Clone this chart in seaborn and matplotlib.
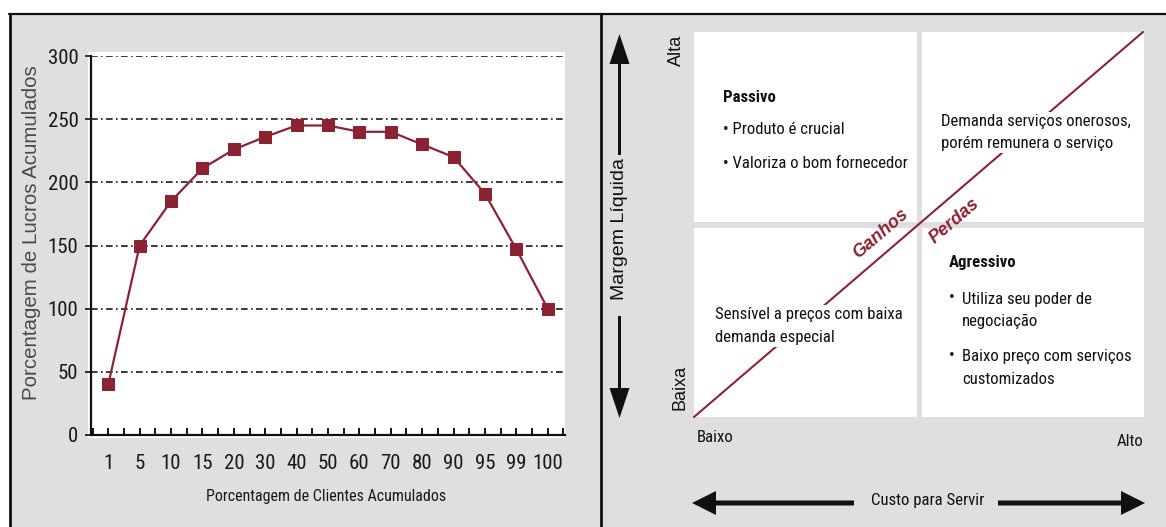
import matplotlib
matplotlib.use('Agg')
import matplotlib.pyplot as plt
import seaborn as sns
import pandas as pd
import numpy as np
from matplotlib.patches import Rectangle, FancyArrow
from matplotlib import font_manager

# ---------------- data ----------------
clientes = ['1', '5', '10', '15', '20', '30', '40', '50', '60', '70', '80', '90', '95', '99', '100']
lucros = [40, 150, 185, 211, 226, 236, 245, 245, 240, 240, 230, 220, 191, 147, 100]
y_ticks = [0, 50, 100, 150, 200, 250, 300]

x_label = 'Porcentagem de Clientes Acumulados'
y_label = 'Porcentagem de Lucros Acumulados'

# ---------------- fonts ----------------
fl = font_manager.fontManager.ttflist
names = {f.name for f in fl}
NF = None
for cand in ['Liberation Sans Narrow', 'Roboto Condensed', 'Open Sans Condensed', 'Noto Sans Condensed']:
    if cand in names:
        NF = dict(fontfamily=cand)
        break
if NF is None:
    cond = [f for f in fl if 'condensed' in str(f.stretch).lower() or 'Condensed' in f.fname]
    if cond:
        NF = dict(fontfamily=cond[0].name, fontstretch='condensed')
if NF is None:
    NF = dict(fontfamily='Liberation Sans')
NARROW_OK = NF['fontfamily'] != 'Liberation Sans'
K = 1.0 if NARROW_OK else 0.85   # shrink factor when no narrow face exists
SANS = 'Liberation Sans'

RED = '#8B2332'
GRAY_BG = '#DFDFE1'
W, H = 1166, 527

sns.set_style('white')
plt.rcParams['font.family'] = [SANS, 'DejaVu Sans']

fig = plt.figure(figsize=(W / 100, H / 100), dpi=100, facecolor='white')

# overlay axes in pixel coordinates (backgrounds + diagram)
ov = fig.add_axes([0, 0, 1, 1], zorder=0)
ov.set_xlim(0, W)
ov.set_ylim(H, 0)
ov.axis('off')
ov.patch.set_alpha(0)

ov.add_patch(Rectangle((10, 14), W - 10, H - 14, facecolor=GRAY_BG, edgecolor='none', zorder=0))
ov.plot([9, W], [14, 14], color='#111111', lw=1.6, zorder=1)
ov.plot([10, 10], [14, H], color='#111111', lw=2.0, zorder=1)
ov.plot([600.5, 600.5], [14, H], color='#111111', lw=2.0, zorder=1)
ov.add_patch(Rectangle((88, 52), 477, 386, facecolor='white', edgecolor='none', zorder=0.5))

# ---------------- left chart ----------------
ax = fig.add_axes([91 / W, 1 - 435 / H, (565 - 91) / W, (435 - 56) / H], zorder=1)
ax.patch.set_alpha(0)
df = pd.DataFrame({'clientes': clientes, 'lucros': lucros})
sns.lineplot(data=df, x='clientes', y='lucros', sort=False, ax=ax, color=RED, lw=1.6,
             marker='s', markersize=8, markeredgecolor=RED, markerfacecolor=RED, zorder=3)

ax.set_ylim(0, 300)
ax.set_yticks(y_ticks)
ax.set_xlim(-0.55, 14.55)
ax.set_xticks(range(len(clientes)))
ax.set_xticklabels(clientes)
ax.set_xticks(np.arange(-0.5, len(clientes), 1.0), minor=True)

ax.yaxis.grid(True, color='#1a1a1a', lw=1.2, linestyle=(0, (4, 2, 1, 2)))
ax.xaxis.grid(False)
for s in ['top', 'right']:
    ax.spines[s].set_visible(False)
for s in ['left', 'bottom']:
    ax.spines[s].set_color('#111111')
    ax.spines[s].set_linewidth(1.6)

ax.tick_params(axis='x', which='both', direction='in', length=5, width=1.4, color='#111111',
               bottom=True, pad=14)
ax.tick_params(axis='y', direction='out', length=4, width=1.2, color='#111111', left=True, pad=5)
for lab in ax.get_xticklabels() + ax.get_yticklabels():
    lab.set_fontfamily(NF['fontfamily'])
    if 'fontstretch' in NF:
        lab.set_fontstretch(NF['fontstretch'])
    lab.set_fontsize(15 * K)
    lab.set_color('#1a1a1a')

ax.set_xlabel(x_label, fontsize=11.5 * K, color='#1a1a1a', **NF)
ax.xaxis.set_label_coords((326 - 91) / 474, -(497 - 435) / 379)
ax.xaxis.label.set_va('center')
ax.set_ylabel(y_label, fontfamily=SANS, fontsize=14.8, color='#4a4a4a')
ax.yaxis.set_label_coords((32 - 91) / 474, (435 - 233) / 379)
ax.yaxis.label.set_va('center')

# ---------------- right diagram ----------------
for (x0, y0, x1, y1) in [(694, 32, 917, 222), (922, 32, 1144, 222),
                         (694, 228, 917, 417), (922, 228, 1144, 417)]:
    ov.add_patch(Rectangle((x0, y0), x1 - x0, y1 - y0, facecolor='white', edgecolor='none', zorder=1))

ov.plot([694, 1143], [417, 32], color=RED, lw=1.5, zorder=2)

FS = 12.1 * K
TXT = dict(fontsize=FS, color='#111111', zorder=4, **NF)
WB = dict(facecolor='white', edgecolor='none', pad=1.5)
LS = 1.62

ov.text(723, 97, 'Passivo', fontweight='bold', va='center', ha='left', **TXT)
ov.text(723, 130, '• Produto é crucial', va='center', ha='left', **TXT)
ov.text(723, 163, '• Valoriza o bom fornecedor', va='center', ha='left', **TXT)

ov.text(941, 132.5, 'Demanda serviços onerosos,\nporém remunera o serviço', va='center', ha='left',
        linespacing=LS, bbox=WB, **TXT)

ov.text(715, 326, 'Sensível a preços com baixa\ndemanda especial', va='center', ha='left',
        linespacing=LS, bbox=WB, **TXT)

ov.text(949, 263, 'Agressivo', fontweight='bold', va='center', ha='left', **TXT)
ov.text(949, 297, '•', va='center', ha='left', **TXT)
ov.text(962, 310.5, 'Utiliza seu poder de\nnegociação', va='center', ha='left', linespacing=LS, **TXT)
ov.text(949, 355, '•', va='center', ha='left', **TXT)
ov.text(962, 368, 'Baixo preço com serviços\ncustomizados', va='center', ha='left', linespacing=LS, **TXT)

ang = np.degrees(np.arctan2(417 - 32, 1143 - 694))
ov.text(881, 234, 'Ganhos', rotation=ang, rotation_mode='anchor', ha='center', va='center',
        fontfamily=SANS, fontsize=13, fontstyle='italic', fontweight='bold', color=RED, zorder=4)
ov.text(955, 221, 'Perdas', rotation=ang, rotation_mode='anchor', ha='center', va='center',
        fontfamily=SANS, fontsize=13, fontstyle='italic', fontweight='bold', color=RED, zorder=4)

ov.text(676, 50, 'Alta', rotation=90, ha='center', va='center', fontfamily=SANS, fontsize=13,
        color='#111111', zorder=4)
ov.text(680, 387, 'Baixa', rotation=90, ha='center', va='center', fontfamily=SANS, fontsize=13,
        color='#111111', zorder=4)
ov.text(697, 438, 'Baixo', ha='left', va='center', **TXT)
ov.text(1143, 441, 'Alto', ha='right', va='center', **TXT)

ov.text(619, 229, 'Margem Líquida', rotation=90, ha='center', va='center', fontfamily=SANS,
        fontsize=14, color='#111111', zorder=4)
ov.text(928, 501, 'Custo para Servir', ha='center', va='center', **TXT)

AK = dict(color='#111111', length_includes_head=True, zorder=3, lw=0)
ov.add_patch(FancyArrow(619.5, 155, 0, 34 - 155, width=3, head_width=20, head_length=30, **AK))
ov.add_patch(FancyArrow(619.5, 316, 0, 418 - 316, width=3, head_width=20, head_length=30, **AK))
ov.add_patch(FancyArrow(854, 503, 692 - 854, 0, width=5, head_width=24, head_length=24, **AK))
ov.add_patch(FancyArrow(998, 503, 1145 - 998, 0, width=5, head_width=24, head_length=24, **AK))

fig.savefig('out.png', dpi=100, facecolor='white')
